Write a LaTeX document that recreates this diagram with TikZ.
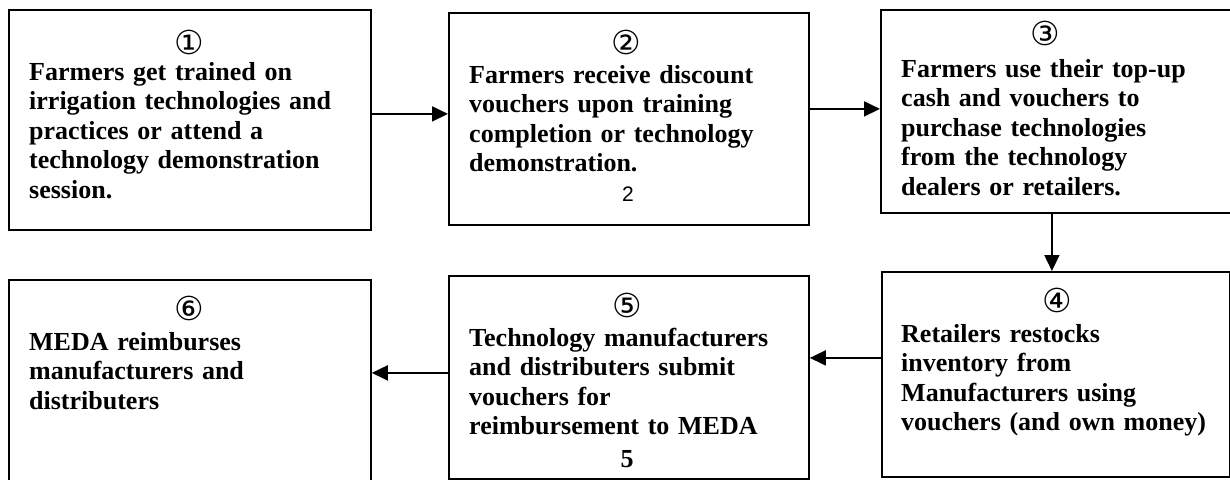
\documentclass[tikz,border=0pt]{standalone}
\usepackage{fontspec}
\setmainfont{Liberation Serif}
\newfontfamily\circfont{DejaVu Sans}
\newfontfamily\arialfont{Liberation Sans}
\usetikzlibrary{arrows.meta}
\begin{document}
\begin{tikzpicture}[x=1pt,y=-1pt,
  box/.style={draw, line width=1.8pt, inner sep=0, anchor=north west},
  txt/.style={anchor=north west, inner sep=0, text width=345pt, align=left,
    font=\bfseries\fontsize{26}{29.5}\selectfont},
  circ/.style={inner sep=0, font=\circfont\fontsize{33}{33}\selectfont},
  arr/.style={line width=1.8pt, -{Triangle[length=16pt,width=15pt]}}]
\useasboundingbox (0,0) rectangle (1230,479);
% boxes
\node[box, minimum width=362pt, minimum height=220pt] (b1) at (8,9) {};
\node[box, minimum width=360pt, minimum height=212pt] (b2) at (448,12) {};
\node[box, minimum width=365pt, minimum height=203pt] (b3) at (880,9) {};
\node[box, minimum width=348pt, minimum height=205pt] (b4) at (881,271) {};
\node[box, minimum width=360pt, minimum height=203pt] (b5) at (448,275) {};
\node[box, minimum width=362pt, minimum height=216pt] (b6) at (8,279) {};
% circled numbers
\node[circ] (c1) at (189,42) {①};
\node[circ] (c2) at (626,42) {②};
\node[circ] (c3) at (1045,33) {③};
\node[circ] (c4) at (1057,300) {④};
\node[circ] (c5) at (627,305) {⑤};
\node[circ] (c6) at (189,308) {⑥};
% texts
\node[txt] (t1) at (29,60) {\rule{0pt}{20pt}Farmers get trained on\\irrigation technologies and\\practices or attend a\\technology demonstration\\session.};
\node[txt] (t2) at (469,63) {\rule{0pt}{20pt}Farmers receive discount\\vouchers upon training\\completion or technology\\demonstration.};
\node[txt] (t3) at (901,57) {\rule{0pt}{20pt}Farmers use their top-up\\cash and vouchers to\\purchase technologies\\from the technology\\dealers or retailers.};
\node[txt] (t4) at (901,322) {\rule{0pt}{20pt}Retailers restocks\\inventory from\\Manufacturers using\\vouchers (and own money)};
\node[txt] (t5) at (469,326) {\rule{0pt}{20pt}Technology manufacturers\\and distributers submit\\vouchers for\\reimbursement to MEDA};
\node[txt] (t6) at (29,330) {\rule{0pt}{20pt}MEDA reimburses\\manufacturers and\\distributers};
\node[inner sep=0, font=\arialfont\fontsize{21}{21}\selectfont] (n2) at (628,194) {2};
\node[inner sep=0, font=\bfseries\fontsize{26}{26}\selectfont] (n5) at (627,459) {5};
% arrows
\draw[arr] ([yshift=6pt]b1.east) -- ([yshift=6pt]b1.east -| b2.west);
\draw[arr] ([yshift=10pt]b2.east) -- ([yshift=10pt]b2.east -| b3.west);
\draw[arr] ([xshift=-11.5pt]b3.south) -- ([xshift=-11.5pt]b3.south |- b4.north);
\draw[arr] ([yshift=16.5pt]b4.west) -- ([yshift=16.5pt]b4.west -| b5.east);
\draw[arr] ([yshift=4.5pt]b5.west) -- ([yshift=4.5pt]b5.west -| b6.east);
\end{tikzpicture}
\end{document}
